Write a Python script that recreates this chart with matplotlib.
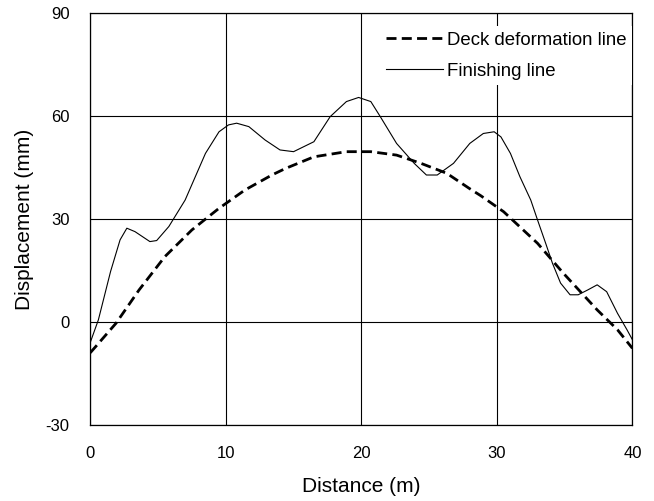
import matplotlib.pyplot as plt

plt.rcParams['font.family'] = ['Liberation Sans', 'DejaVu Sans']
plt.rcParams['axes.unicode_minus'] = False

# Finishing line (thin solid)
fin_x = [0.0, 0.6, 1.5, 2.2, 2.7, 3.3, 4.4, 4.9, 5.8, 7.0, 8.5, 9.5, 10.2, 10.8,
         11.7, 12.9, 14.0, 15.0, 16.5, 17.7, 18.9, 19.8, 20.7, 21.4, 22.6, 23.9,
         24.8, 25.6, 26.8, 28.0, 29.0, 29.8, 30.3, 31.0, 31.7, 32.5, 33.0, 33.6,
         34.1, 34.7, 35.4, 36.0, 36.7, 37.4, 38.1, 38.9, 39.6, 40.0]
fin_y = [-6.0, 0.6, 14.7, 23.9, 27.3, 26.3, 23.4, 23.7, 27.8, 35.5, 49.1, 55.4,
         57.4, 57.9, 56.9, 53.0, 50.1, 49.6, 52.5, 59.8, 64.2, 65.4, 64.2, 59.8,
         52.0, 46.2, 42.8, 42.8, 46.2, 52.0, 54.9, 55.4, 53.9, 49.1, 42.3, 35.5,
         29.7, 22.9, 17.1, 11.3, 7.9, 7.9, 9.3, 10.8, 8.8, 2.5, -2.3, -5.2]

# Deck deformation line (thick dashed)
deck_x = [0.0, 0.4, 1.9, 3.6, 5.5, 7.5, 9.5, 11.4, 13.4, 14.4, 16.5, 18.9, 20.7,
          22.6, 24.4, 26.3, 28.0, 28.8, 30.5, 33.0, 34.9, 37.4, 38.9, 40.0]
deck_y = [-9.0, -7.2, -0.4, 9.3, 19.0, 26.8, 33.1, 38.4, 42.8, 44.7, 48.1, 49.6,
          49.6, 48.6, 46.2, 43.3, 38.8, 36.8, 32.1, 22.9, 14.2, 3.5, -2.3, -7.7]

x_ticks = [0, 10, 20, 30, 40]
y_ticks = [-30, 0, 30, 60, 90]

fig = plt.figure(figsize=(6.54, 5.01), dpi=100)
ax = fig.add_axes([0.138, 0.152, 0.829, 0.822])

ax.plot(deck_x, deck_y, color='black', linewidth=2.0, linestyle=(0, (3.6, 1.9)),
        label='Deck deformation line')
ax.plot(fin_x, fin_y, color='black', linewidth=0.8, label='Finishing line')

ax.set_xlim(0, 40)
ax.set_ylim(-30, 90)
ax.set_xticks(x_ticks)
ax.set_yticks(y_ticks)
ax.grid(True, color='black', linewidth=0.8)
ax.set_axisbelow(True)
ax.tick_params(length=0, labelsize=12, pad=15)
for s in ax.spines.values():
    s.set_linewidth(0.9)

ax.set_xlabel('Distance (m)', fontsize=15, labelpad=12)
ax.set_ylabel('Displacement (mm)', fontsize=15, labelpad=8)

leg = ax.legend(loc='upper right', bbox_to_anchor=(1.0, 0.968), frameon=True,
                fancybox=False, edgecolor='none', framealpha=1.0, fontsize=13.4,
                handlelength=3.1, handletextpad=0.2, borderpad=0.3,
                borderaxespad=0.0, labelspacing=0.75)

fig.savefig('out.png', dpi=100)
